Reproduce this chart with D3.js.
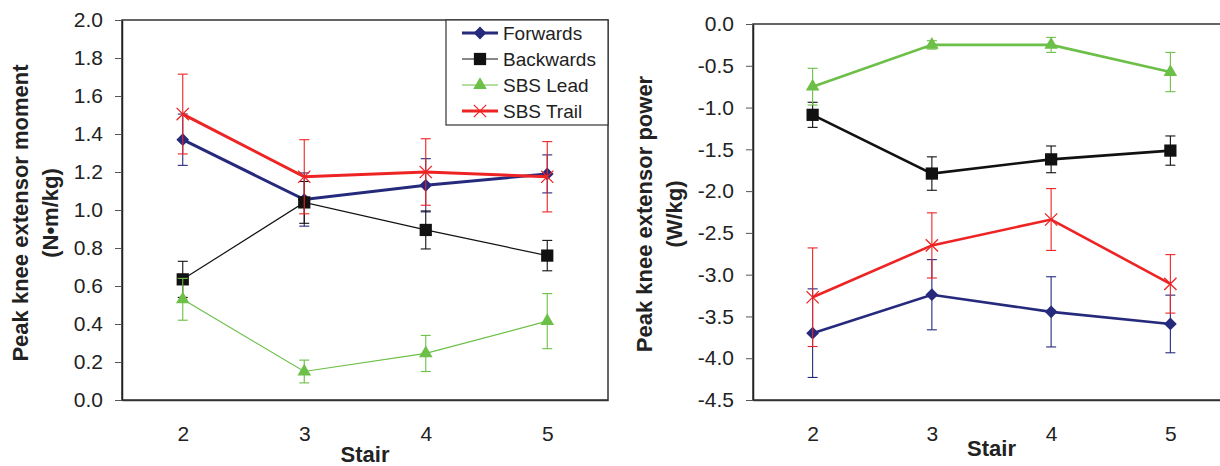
<!DOCTYPE html>
<html>
<head>
<meta charset="utf-8">
<script src="https://cdn.jsdelivr.net/npm/d3@7"></script>
<style>
  body { margin: 0; background: #fff; }
  svg { display: block; }
  text { font-family: "Liberation Sans", Arial, Helvetica, sans-serif; fill: #222; }
</style>
</head>
<body>
<svg width="1220" height="466"></svg>
<script>
const stairs = [2, 3, 4, 5];
const seriesNames = ["Forwards", "Backwards", "SBS Lead", "SBS Trail"];

// Peak knee extensor moment (N·m/kg), mean and error bar half-length
const momentForwards = [1.37, 1.055, 1.13, 1.19];
const momentForwardsErr = [0.135, 0.14, 0.14, 0.10];
const momentBackwards = [0.635, 1.04, 0.895, 0.76];
const momentBackwardsErr = [0.095, 0.11, 0.10, 0.08];
const momentLead = [0.53, 0.15, 0.245, 0.415];
const momentLeadErr = [0.11, 0.06, 0.095, 0.145];
const momentTrail = [1.505, 1.175, 1.20, 1.175];
const momentTrailErr = [0.21, 0.195, 0.175, 0.185];
const momentTicks = [0, 0.2, 0.4, 0.6, 0.8, 1.0, 1.2, 1.4, 1.6, 1.8, 2.0];

// Peak knee extensor power (W/kg)
const powerForwards = [-3.70, -3.24, -3.445, -3.59];
const powerForwardsErr = [0.53, 0.42, 0.42, 0.345];
const powerBackwards = [-1.087, -1.79, -1.62, -1.515];
const powerBackwardsErr = [0.15, 0.20, 0.16, 0.175];
const powerLead = [-0.75, -0.25, -0.25, -0.575];
const powerLeadErr = [0.22, 0.05, 0.09, 0.235];
const powerTrail = [-3.27, -2.65, -2.34, -3.11];
const powerTrailErr = [0.59, 0.39, 0.37, 0.35];
const powerTicks = [0, -0.5, -1.0, -1.5, -2.0, -2.5, -3.0, -3.5, -4.0, -4.5];

const colors = ["#262a7c", "#111111", "#6cbf47", "#ee2424"];
const symbols = ["diamond", "square", "triangle", "x"];

const svg = d3.select("svg");

function markerPath(kind) {
  if (kind === "diamond") return d3.symbol(d3.symbolSquare, 82)();
  if (kind === "square") return d3.symbol(d3.symbolSquare, 150)();
  if (kind === "triangle") return d3.symbol(d3.symbolTriangle, 80)();
  return d3.symbol(d3.symbolTimes, 100)();
}

function drawMarker(g, kind, color, x, y) {
  const p = g.append("path")
    .attr("d", markerPath(kind))
    .attr("transform", `translate(${x},${y})` + (kind === "diamond" ? " rotate(45)" : ""));
  if (kind === "x") p.attr("fill", "none").attr("stroke", color).attr("stroke-width", 1.3);
  else p.attr("fill", color);
}

function drawPanel(opt) {
  const g = svg.append("g");
  const x = d3.scalePoint().domain(stairs).range([opt.left, opt.right]).padding(0.5);
  const y = d3.scaleLinear().domain(opt.domain).range([opt.bottom, opt.top]);

  // frame
  g.append("rect")
    .attr("x", opt.left).attr("y", opt.top)
    .attr("width", opt.right - opt.left).attr("height", opt.bottom - opt.top)
    .attr("fill", "none").attr("stroke", "#333").attr("stroke-width", 1.5);

  const yAxis = g.append("g")
    .attr("transform", `translate(${opt.left},0)`)
    .call(d3.axisLeft(y).tickValues(opt.ticks).tickFormat(d3.format(".1f"))
      .tickSize(7).tickPadding(12).tickSizeOuter(0));
  yAxis.select(".domain").attr("stroke", "#222").attr("stroke-width", 1.5);
  yAxis.selectAll(".tick line").attr("stroke", "#555");
  yAxis.selectAll("text").style("font-size", "21px").attr("fill", "#222")
    .text(d => d3.format(".1f")(d).replace("−", "-"));

  const xAxis = g.append("g")
    .attr("transform", `translate(0,${opt.bottom})`)
    .call(d3.axisBottom(x).tickSize(0).tickPadding(26));
  xAxis.select(".domain").attr("stroke", "#333").attr("stroke-width", 1.5);
  xAxis.selectAll("text").style("font-size", "21px").attr("fill", "#222");

  g.append("text")
    .attr("x", (opt.left + opt.right) / 2).attr("y", opt.stairY)
    .attr("text-anchor", "middle")
    .style("font-size", "22px").style("font-weight", "bold")
    .text("Stair");

  opt.titles.forEach((t, i) => {
    g.append("text")
      .attr("transform", `translate(${opt.titleX[i]},${opt.titleY}) rotate(-90)`)
      .attr("text-anchor", "middle")
      .style("font-size", "22px").style("font-weight", "bold")
      .text(t);
  });

  const line = d3.line().x((d, i) => x(stairs[i])).y(d => y(d));

  opt.series.forEach((vals, s) => {
    const col = colors[s];
    const errs = opt.errors[s];
    const sg = g.append("g");
    vals.forEach((v, i) => {
      const cx = x(stairs[i]);
      const y1 = y(v + errs[i]), y2 = y(v - errs[i]);
      sg.append("line").attr("x1", cx).attr("x2", cx).attr("y1", y1).attr("y2", y2)
        .attr("stroke", col).attr("stroke-width", 1.1);
      [y1, y2].forEach(yy => sg.append("line")
        .attr("x1", cx - 5).attr("x2", cx + 5).attr("y1", yy).attr("y2", yy)
        .attr("stroke", col).attr("stroke-width", 1.1));
    });
    sg.append("path").datum(vals).attr("d", line)
      .attr("fill", "none").attr("stroke", col).attr("stroke-width", opt.widths[s]);
    vals.forEach((v, i) => drawMarker(sg, symbols[s], col, x(stairs[i]), y(v)));
  });

  return g;
}

const leftPanel = drawPanel({
  left: 122, right: 608, top: 20, bottom: 400,
  domain: [0, 2.0], ticks: momentTicks,
  series: [momentForwards, momentBackwards, momentLead, momentTrail],
  errors: [momentForwardsErr, momentBackwardsErr, momentLeadErr, momentTrailErr],
  widths: [3, 1.2, 1.2, 3],
  titles: ["Peak knee extensor moment", "(N\u2022m/kg)"],
  titleX: [28, 58], titleY: 213, stairY: 462
});

drawPanel({
  left: 753, right: 1230, top: 24, bottom: 400,
  domain: [-4.5, 0], ticks: powerTicks,
  series: [powerForwards, powerBackwards, powerLead, powerTrail],
  errors: [powerForwardsErr, powerBackwardsErr, powerLeadErr, powerTrailErr],
  widths: [2.6, 2.6, 2.6, 2.6],
  titles: ["Peak knee extensor power", "(W/kg)"],
  titleX: [652, 682], titleY: 214, stairY: 456
});

// legend in the top-right corner of the left panel
const legend = leftPanel.append("g");
legend.append("rect").attr("x", 446).attr("y", 20).attr("width", 162).attr("height", 105)
  .attr("fill", "#fff").attr("stroke", "#333").attr("stroke-width", 1.2);
const legendWidths = [3, 1.2, 1.2, 3];
seriesNames.forEach((name, i) => {
  const ly = 33 + i * 26;
  legend.append("line").attr("x1", 462).attr("x2", 498).attr("y1", ly).attr("y2", ly)
    .attr("stroke", colors[i]).attr("stroke-width", legendWidths[i]);
  drawMarker(legend, symbols[i], colors[i], 480, ly);
  legend.append("text").attr("x", 503).attr("y", ly).attr("dy", "0.36em")
    .style("font-size", "19px").text(name);
});
</script>
</body>
</html>
